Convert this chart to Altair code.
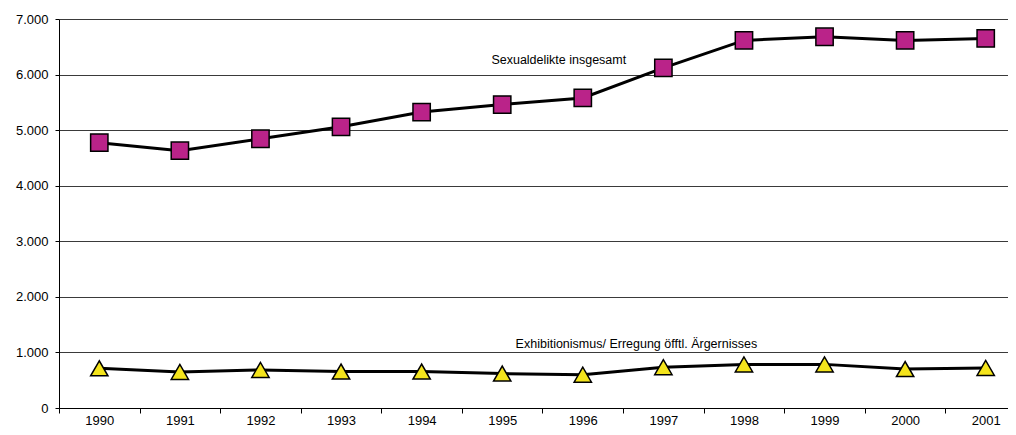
import altair as alt
import pandas as pd

years = ["1990", "1991", "1992", "1993", "1994", "1995", "1996", "1997", "1998", "1999", "2000", "2001"]
sexualdelikte = [4775, 4630, 4845, 5060, 5325, 5460, 5580, 6120, 6615, 6680, 6615, 6650]
exhibitionismus = [715, 650, 685, 655, 655, 620, 600, 735, 785, 785, 700, 720]
series_names = ["Sexualdelikte insgesamt", "Exhibitionismus/ Erregung öfftl. Ärgernisses"]
marker_fills = ["#BA2389", "#F4E41C"]
marker_shapes = ["square", "triangle-up"]

label_texts = ["Sexualdelikte insgesamt", "Exhibitionismus/ Erregung öfftl. Ärgernisses"]
label_years = ["1996", "1997"]
label_values = [6270, 1143]
label_dx = [-24, -27]

rows = []
for name, vals in zip(series_names, [sexualdelikte, exhibitionismus]):
    for y, v in zip(years, vals):
        rows.append({"Jahr": y, "Wert": v, "Reihe": name})
df = pd.DataFrame(rows)

labels_df = pd.DataFrame({"Jahr": label_years, "Wert": label_values, "Text": label_texts, "dx": label_dx})

FONT = "Liberation Sans"

x_enc = alt.X(
    "Jahr:N",
    sort=years,
    bandPosition=0.5,
    scale=alt.Scale(type="band", paddingInner=0, paddingOuter=0, range=[0, 967]),
    axis=alt.Axis(
        title=None,
        labelAngle=0,
        tickBand="extent",
        tickSize=5,
        tickColor="#000000",
        domainColor="#000000",
        labelFont=FONT,
        labelFontSize=13,
        labelColor="#000000",
        labelPadding=1,
        grid=False,
    ),
)
y_enc = alt.Y(
    "Wert:Q",
    scale=alt.Scale(domain=[0, 7000], nice=False),
    axis=alt.Axis(
        title=None,
        values=[0, 1000, 2000, 3000, 4000, 5000, 6000, 7000],
        labelExpr="replace(format(datum.value, ','), ',', '.')",
        tickSize=4,
        tickColor="#000000",
        domainColor="#000000",
        labelFont=FONT,
        labelFontSize=13,
        labelColor="#000000",
        labelPadding=7,
        grid=True,
        gridColor="#3a3a3a",
        gridWidth=1,
    ),
)

base = alt.Chart(df)

lines = base.mark_line(color="#000000", strokeWidth=3).encode(
    x=x_enc, y=y_enc, detail="Reihe:N"
)

points = base.mark_point(filled=True, size=300, stroke="#000000", strokeWidth=1.5, opacity=1).encode(
    x=x_enc,
    y=y_enc,
    fill=alt.Fill("Reihe:N", scale=alt.Scale(domain=series_names, range=marker_fills), legend=None),
    shape=alt.Shape("Reihe:N", scale=alt.Scale(domain=series_names, range=marker_shapes), legend=None),
)

texts = []
for i in range(len(label_texts)):
    texts.append(
        alt.Chart(labels_df.iloc[[i]]).mark_text(
            font=FONT, fontSize=12.5, color="#000000", align="center", baseline="middle", dx=label_dx[i]
        ).encode(x=x_enc, y=y_enc, text="Text:N")
    )

chart = alt.layer(lines, points, *texts).properties(
    width=949,
    height=389,
    padding={"left": 51, "top": 11, "right": 0, "bottom": 19},
    autosize=alt.AutoSizeParams(type="none"),
).configure_view(stroke=None)

chart.save("out.html", embed_options={"renderer": "svg", "actions": False})
